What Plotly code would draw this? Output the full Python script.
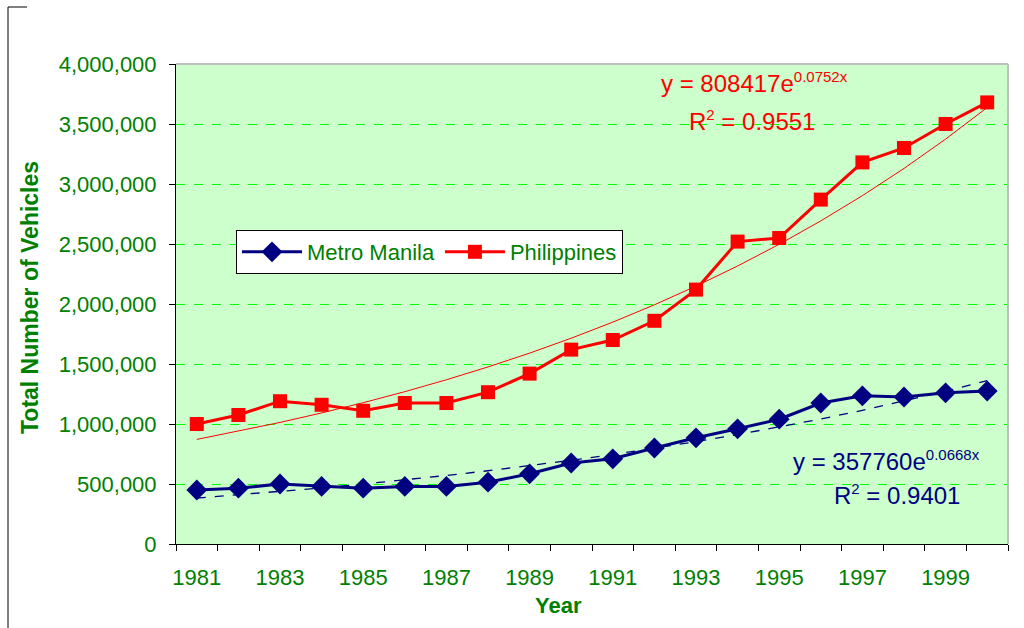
import math
import plotly.graph_objects as go

# Registered vehicles, 1981-2000
years = list(range(1981, 2001))
metro_manila = [450000, 465000, 500000, 480000, 465000, 480000, 480000, 515000, 585000, 675000,
                710000, 800000, 885000, 960000, 1040000, 1175000, 1235000, 1225000, 1260000, 1275000]
philippines = [1000000, 1075000, 1190000, 1160000, 1110000, 1175000, 1175000, 1265000, 1420000, 1620000,
               1700000, 1860000, 2120000, 2520000, 2550000, 2870000, 3180000, 3300000, 3500000, 3680000]

# Exponential trend fits y = a * e^(b x), x = 1..20
ph_fit = (808417, 0.0752, 0.9551)
mm_fit = (357760, 0.0668, 0.9401)

y_ticks = [0, 500000, 1000000, 1500000, 2000000, 2500000, 3000000, 3500000, 4000000]
label_years = years[::2]

GREEN = "#008000"
NAVY = "#000080"
RED = "#FF0000"
FONT = "Liberation Sans, Arial, sans-serif"

xs = list(range(1, len(years) + 1))
ph_trend = [ph_fit[0] * math.exp(ph_fit[1] * x) for x in xs]
mm_trend = [mm_fit[0] * math.exp(mm_fit[1] * x) for x in xs]

fig = go.Figure()
fig.add_trace(go.Scatter(x=xs, y=ph_trend, mode="lines", line=dict(color=RED, width=1),
                         showlegend=False, hoverinfo="skip"))
fig.add_trace(go.Scatter(x=xs, y=mm_trend, mode="lines", line=dict(color=NAVY, width=1.3, dash="dash"),
                         showlegend=False, hoverinfo="skip"))
fig.add_trace(go.Scatter(x=xs, y=metro_manila, mode="lines+markers", name="Metro Manila",
                         line=dict(color=NAVY, width=3),
                         marker=dict(symbol="diamond", size=16, color=NAVY)))
fig.add_trace(go.Scatter(x=xs, y=philippines, mode="lines+markers", name="Philippines",
                         line=dict(color=RED, width=3),
                         marker=dict(symbol="square", size=14, color=RED)))

fig.update_layout(
    width=1024, height=628,
    margin=dict(l=176, r=16, t=64, b=84),
    paper_bgcolor="white",
    plot_bgcolor="#CCFFCC",
    font=dict(family=FONT, color=GREEN, size=22),
    legend=dict(orientation="h", x=(236 - 176) / 832, y=(544 - 252) / 480,
                xanchor="left", yanchor="middle",
                bgcolor="white", bordercolor="black", borderwidth=1,
                font=dict(size=22, color=GREEN), itemwidth=60, tracegroupgap=0),
    showlegend=True,
)

fig.update_xaxes(
    range=[0.5, len(years) + 0.5],
    tickmode="array",
    tickvals=xs[::2],
    ticktext=[str(y) for y in label_years],
    ticks="",
    ticklabelstandoff=14,
    showgrid=False,
    zeroline=False,
    showline=True, linecolor="black", linewidth=1,
    tickfont=dict(size=22, color=GREEN),
    minor=dict(tickmode="linear", tick0=0.5, dtick=1, ticks="outside", ticklen=6,
               tickcolor="black", showgrid=False),
)
fig.update_yaxes(
    range=[0, 4000000],
    tickmode="array",
    tickvals=y_ticks,
    tickformat=",",
    ticks="outside", ticklen=6, tickcolor="black",
    ticklabelstandoff=8,
    showgrid=True, gridcolor="#00FF00", griddash="dash", gridwidth=1,
    zeroline=False,
    showline=True, linecolor="black", linewidth=1,
    tickfont=dict(size=22, color=GREEN),
)

# gray frame on top and right of plot area
fig.add_shape(type="line", xref="paper", yref="paper", x0=0, x1=1, y0=1, y1=1,
              line=dict(color="#BFBFBF", width=2))
fig.add_shape(type="line", xref="paper", yref="paper", x0=1, x1=1, y0=0, y1=1,
              line=dict(color="#BFBFBF", width=2))
# outer chart border corner
fig.add_shape(type="line", xref="paper", yref="paper",
              x0=-168 / 832, x1=-149 / 832, y0=1 + 57 / 480, y1=1 + 57 / 480,
              line=dict(color="black", width=1))
fig.add_shape(type="line", xref="paper", yref="paper",
              x0=-168 / 832, x1=-168 / 832, y0=1 + 57 / 480, y1=-84 / 480,
              line=dict(color="black", width=1))


def eq_text(a, b):
    return f"y = {a}e<sup><span style='font-size:15px'>{b}x</span></sup>"


def r2_text(r2):
    return f"R<sup><span style='font-size:15px'>2</span></sup> = {r2}"


annotations = [
    dict(text="<b>Total Number of Vehicles</b>", x=-146 / 832, y=(544 - 298) / 480,
         xref="paper", yref="paper",
         textangle=-90, showarrow=False, font=dict(size=23, color=GREEN, family=FONT),
         xanchor="center", yanchor="middle"),
    dict(text="<b>Year</b>", x=(558 - 176) / 832, y=-61 / 480, xref="paper", yref="paper",
         showarrow=False, font=dict(size=22, color=GREEN, family=FONT),
         xanchor="center", yanchor="middle"),
    dict(text=eq_text(*ph_fit[:2]), x=(754 - 176) / 832, y=(544 - 83) / 480,
         xref="paper", yref="paper", showarrow=False, font=dict(size=24, color=RED, family=FONT),
         xanchor="center", yanchor="middle"),
    dict(text=r2_text(ph_fit[2]), x=(752 - 176) / 832, y=(544 - 120) / 480,
         xref="paper", yref="paper", showarrow=False, font=dict(size=24, color=RED, family=FONT),
         xanchor="center", yanchor="middle"),
    dict(text=eq_text(*mm_fit[:2]), x=(886 - 176) / 832, y=(544 - 460) / 480,
         xref="paper", yref="paper", showarrow=False, font=dict(size=24, color=NAVY, family=FONT),
         xanchor="center", yanchor="middle"),
    dict(text=r2_text(mm_fit[2]), x=(897 - 176) / 832, y=(544 - 494) / 480,
         xref="paper", yref="paper", showarrow=False, font=dict(size=24, color=NAVY, family=FONT),
         xanchor="center", yanchor="middle"),
]
fig.update_layout(annotations=annotations)

fig.write_html("out.html")
